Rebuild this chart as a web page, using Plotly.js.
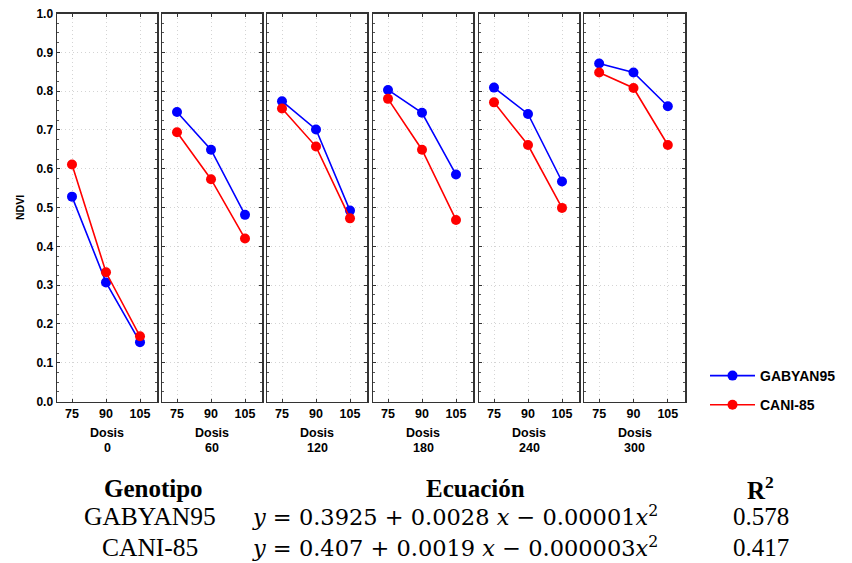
<!DOCTYPE html>
<html>
<head>
<meta charset="utf-8">
<script src="https://cdn.plot.ly/plotly-3.0.1.min.js"></script>
<style>
  html, body { margin: 0; padding: 0; background: #fff; }
  #chart { width: 852px; height: 563px; }
</style>
</head>
<body>
<div id="chart"></div>
<script>
// ---- Data ----
const dosisLabels = ['0', '60', '120', '180', '240', '300'];
const xValues = [75, 90, 105];
const xTickLabels = ['75', '90', '105'];
const seriesNames = ['GABYAN95', 'CANI-85'];
const gabyan95 = [
  [0.528, 0.307, 0.153],
  [0.746, 0.649, 0.481],
  [0.774, 0.701, 0.492],
  [0.803, 0.744, 0.585],
  [0.809, 0.741, 0.567],
  [0.871, 0.848, 0.761]
];
const cani85 = [
  [0.611, 0.333, 0.168],
  [0.694, 0.573, 0.420],
  [0.755, 0.657, 0.472],
  [0.780, 0.649, 0.468],
  [0.771, 0.661, 0.499],
  [0.848, 0.808, 0.661]
];
const tableHeader = ['Genotipo', 'Ecuación', 'R<sup>2</sup>'];
const tableGenotipo = ['GABYAN95', 'CANI-85'];
const tableEcuacion = [
  '<i>y</i>\u00A0=\u00A00.3925\u00A0+\u00A00.0028\u00A0<i>x</i>\u00A0\u2212\u00A00.00001<i>x</i><sup>2</sup>',
  '<i>y</i>\u00A0=\u00A00.407\u00A0+\u00A00.0019\u00A0<i>x</i>\u00A0\u2212\u00A00.000003<i>x</i><sup>2</sup>'
];
const tableR2 = ['0.578', '0.417'];

// ---- Layout geometry ----
const W = 852, H = 563;
const panelPx = [[57,157],[162,262],[267,367],[373,473],[479,579],[584,685]];
const yTopPx = 13.5, yBotPx = 401.5;
const colors = ['#0000FF', '#FF0000'];
const sans = 'Liberation Sans, Arial, sans-serif';
const serif = 'Liberation Serif, Times New Roman, serif';

const traces = [];
const layout = {
  width: W, height: H,
  margin: {l: 0, r: 0, t: 0, b: 0},
  paper_bgcolor: '#fff', plot_bgcolor: '#fff',
  showlegend: true,
  legend: {
    x: 705 / W, xanchor: 'left',
    y: 1 - 360 / H, yanchor: 'top',
    font: {family: sans, size: 14, color: '#000', weight: 'bold'},
    itemwidth: 45,
    tracegroupgap: 8,
    bgcolor: 'rgba(0,0,0,0)'
  },
  annotations: []
};

const allSeries = [gabyan95, cani85];
for (let p = 0; p < dosisLabels.length; p++) {
  const ax = p === 0 ? '' : String(p + 1);
  for (let s = 0; s < 2; s++) {
    traces.push({
      type: 'scatter', mode: 'lines+markers',
      x: xValues, y: allSeries[s][p],
      xaxis: 'x' + ax, yaxis: 'y' + ax,
      name: seriesNames[s],
      legendgroup: seriesNames[s],
      showlegend: p === 0,
      line: {color: colors[s], width: 1.6},
      marker: {color: colors[s], size: 10},
      hoverinfo: 'skip'
    });
  }
  const common = {
    showline: true, linecolor: '#333', linewidth: 1.5, mirror: 'ticks',
    ticks: 'inside', ticklen: 3, tickcolor: '#333', tickwidth: 1,
    showgrid: true, gridcolor: '#d4d4d4', griddash: '1px,3px', gridwidth: 1,
    zeroline: false, fixedrange: true
  };
  layout['xaxis' + ax] = Object.assign({}, common, {
    domain: [panelPx[p][0] / W, panelPx[p][1] / W],
    anchor: 'y' + ax,
    range: [68.38, 112.5],
    tickmode: 'array', tickvals: xValues, ticktext: xTickLabels,
    tickfont: {family: sans, size: 12.5, color: '#000', weight: 'bold'}
  });
  layout['yaxis' + ax] = Object.assign({}, common, {
    domain: [1 - yBotPx / H, 1 - yTopPx / H],
    anchor: 'x' + ax,
    range: [0, 1],
    tickmode: 'linear', tick0: 0, dtick: 0.1, tickformat: '.1f',
    showticklabels: p === 0,
    tickfont: {family: sans, size: 12, color: '#000', weight: 'bold'},
    minor: {dtick: 0.025, ticks: 'inside', ticklen: 2, tickcolor: '#555', showgrid: false}
  });
  const cx = (panelPx[p][0] + panelPx[p][1]) / 2 / W;
  layout.annotations.push({
    xref: 'paper', yref: 'paper', x: cx, y: 1 - 433 / H,
    xanchor: 'center', yanchor: 'middle', showarrow: false,
    text: 'Dosis', font: {family: sans, size: 12.5, color: '#000', weight: 'bold'}
  });
  layout.annotations.push({
    xref: 'paper', yref: 'paper', x: cx, y: 1 - 448 / H,
    xanchor: 'center', yanchor: 'middle', showarrow: false,
    text: dosisLabels[p], font: {family: sans, size: 12.5, color: '#000', weight: 'bold'}
  });
}

// NDVI axis label
layout.annotations.push({
  xref: 'paper', yref: 'paper', x: 20 / W, y: 1 - 208 / H,
  xanchor: 'center', yanchor: 'middle', showarrow: false, textangle: -90,
  text: 'NDVI', font: {family: sans, size: 10.5, color: '#000', weight: 'bold'}
});

// Table below the chart
const headX = [153, 475, 760];
headX.forEach((x, i) => {
  layout.annotations.push({
    xref: 'paper', yref: 'paper', x: x / W, y: 1 - 488 / H,
    xanchor: 'center', yanchor: 'middle', showarrow: false,
    text: tableHeader[i], font: {family: serif, size: 25, color: '#000', weight: 'bold'}
  });
});
const rowY = [516, 547];
for (let r = 0; r < 2; r++) {
  layout.annotations.push({
    xref: 'paper', yref: 'paper', x: 150 / W, y: 1 - rowY[r] / H,
    xanchor: 'center', yanchor: 'middle', showarrow: false,
    text: tableGenotipo[r], font: {family: serif, size: 25.5, color: '#000'}
  });
  layout.annotations.push({
    xref: 'paper', yref: 'paper', x: 250 / W, y: 1 - (rowY[r] - 1) / H,
    xanchor: 'left', yanchor: 'middle', showarrow: false,
    text: tableEcuacion[r], font: {family: 'DejaVu Serif, serif', size: 22.5, color: '#000'}
  });
  layout.annotations.push({
    xref: 'paper', yref: 'paper', x: 761 / W, y: 1 - rowY[r] / H,
    xanchor: 'center', yanchor: 'middle', showarrow: false,
    text: tableR2[r], font: {family: serif, size: 25, color: '#000'}
  });
}

Plotly.newPlot('chart', traces, layout, {staticPlot: true, displayModeBar: false});
</script>
</body>
</html>
